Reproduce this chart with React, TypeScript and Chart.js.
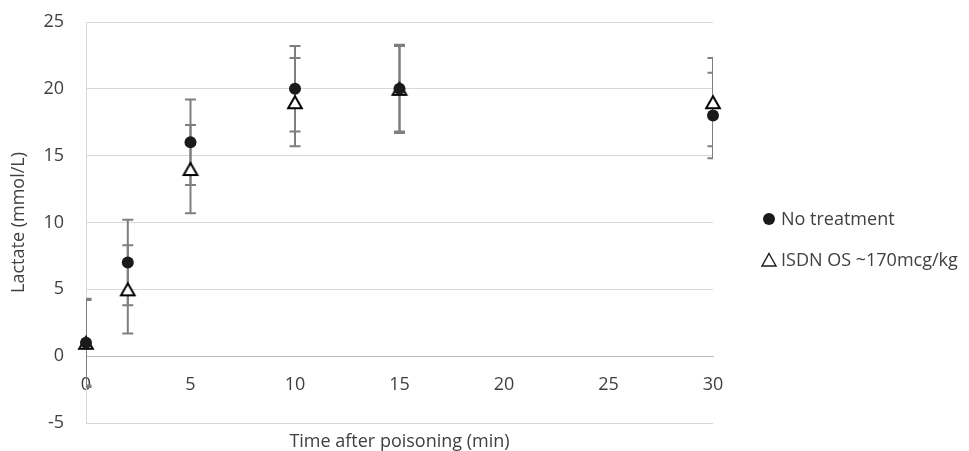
import React, { useEffect, useRef } from 'react';
import { Chart, registerables } from 'chart.js';

Chart.register(...registerables);

// ---- data ----
const times = [0, 2, 5, 10, 15, 30];
const noTreatment = [1, 7, 16, 20, 20, 18];
const noTreatmentErr = [3.2, 3.2, 3.2, 3.2, 3.2, 3.2];
const isdn = [1, 5, 14, 19, 20, 19];
const isdnErr = [3.3, 3.3, 3.3, 3.3, 3.3, 3.3];
const seriesLabels = ['No treatment', 'ISDN OS ~170mcg/kg'];
const xTitle = 'Time after poisoning (min)';
const yTitle = 'Lactate (mmol/L)';
const xMin = 0;
const xMax = 30;
const xStep = 5;
const yMin = -5;
const yMax = 25;
const yStep = 5;

const FONT = "'Open Sans', sans-serif";
const TEXT = '#404040';
const GRID = '#d9d9d9';
const AXIS = '#bfbfbf';
const ERR = '#7f7f7f';

function makeTriangle(w: number, h: number, lw: number) {
  const c = document.createElement('canvas');
  const size = 20;
  c.width = size;
  c.height = size;
  const ctx = c.getContext('2d')!;
  const cx = size / 2;
  const cy = size / 2;
  ctx.beginPath();
  ctx.moveTo(cx, cy - h / 2);
  ctx.lineTo(cx + w / 2, cy + h / 2);
  ctx.lineTo(cx - w / 2, cy + h / 2);
  ctx.closePath();
  ctx.fillStyle = '#ffffff';
  ctx.fill();
  ctx.lineWidth = lw;
  ctx.strokeStyle = '#000000';
  ctx.stroke();
  return c;
}

const errorBarPlugin = {
  id: 'errorBars',
  beforeDatasetsDraw(chart: any) {
    const { ctx, chartArea, scales } = chart;
    const xs = scales.x;
    const ys = scales.y;
    ctx.save();
    ctx.beginPath();
    ctx.rect(chartArea.left, chartArea.top, chartArea.right - chartArea.left, chartArea.bottom - chartArea.top);
    ctx.clip();
    ctx.strokeStyle = ERR;
    ctx.lineWidth = 2;
    chart.data.datasets.forEach((ds: any) => {
      const errs: number[] = ds.errors || [];
      ds.data.forEach((p: any, j: number) => {
        const e = errs[j];
        if (e == null) return;
        const x = xs.getPixelForValue(p.x);
        const yt = ys.getPixelForValue(p.y + e);
        const yb = ys.getPixelForValue(p.y - e);
        const cap = 5.5;
        ctx.beginPath();
        ctx.moveTo(x, yt);
        ctx.lineTo(x, yb);
        ctx.moveTo(x - cap, yt);
        ctx.lineTo(x + cap, yt);
        ctx.moveTo(x - cap, yb);
        ctx.lineTo(x + cap, yb);
        ctx.stroke();
      });
    });
    ctx.restore();
  },
};

const legendPlugin = {
  id: 'sideLegend',
  afterDraw(chart: any) {
    const { ctx, chartArea } = chart;
    const x0 = chartArea.right + 56;
    const ys = [chartArea.top + 197, chartArea.top + 238];
    ctx.save();
    ctx.font = `18px ${FONT}`;
    ctx.textBaseline = 'middle';
    ctx.textAlign = 'left';
    chart.data.datasets.forEach((ds: any, i: number) => {
      const y = ys[i];
      if (i === 0) {
        ctx.beginPath();
        ctx.arc(x0, y, 6, 0, Math.PI * 2);
        ctx.fillStyle = '#1a1a1a';
        ctx.fill();
      } else {
        ctx.beginPath();
        ctx.moveTo(x0, y - 6.5);
        ctx.lineTo(x0 + 7, y + 6);
        ctx.lineTo(x0 - 7, y + 6);
        ctx.closePath();
        ctx.lineWidth = 1.4;
        ctx.strokeStyle = '#1a1a1a';
        ctx.stroke();
      }
      ctx.fillStyle = TEXT;
      ctx.fillText(ds.label, x0 + 12, y + 1);
    });
    ctx.restore();
  },
};

export default function App() {
  const ref = useRef<HTMLCanvasElement>(null);
  useEffect(() => {
    if (!ref.current) return;
    const tri = makeTriangle(13.7, 12, 2);
    const chart = new Chart(ref.current, {
      type: 'scatter',
      data: {
        datasets: [
          {
            label: seriesLabels[0],
            data: times.map((t, i) => ({ x: t, y: noTreatment[i] })),
            errors: noTreatmentErr,
            pointStyle: 'circle',
            pointRadius: 6,
            backgroundColor: '#1a1a1a',
            borderColor: '#1a1a1a',
            borderWidth: 0,
            showLine: false,
            clip: false,
          } as any,
          {
            label: seriesLabels[1],
            data: times.map((t, i) => ({ x: t, y: isdn[i] })),
            errors: isdnErr,
            pointStyle: tri,
            pointRadius: 8,
            backgroundColor: '#ffffff',
            borderColor: '#000000',
            showLine: false,
            clip: false,
          } as any,
        ],
      },
      options: {
        animation: false,
        responsive: false,
        events: [],
        layout: { padding: { top: 22, right: 256, left: 0, bottom: 0 } },
        plugins: {
          legend: { display: false },
          tooltip: { enabled: false },
        },
        scales: {
          x: {
            type: 'linear',
            min: xMin,
            max: xMax,
            position: { y: 0 } as any,
            ticks: {
              stepSize: xStep,
              padding: 18,
              color: TEXT,
              font: { family: FONT, size: 18 },
            },
            grid: { display: false, drawTicks: false },
            border: { display: true, color: AXIS, width: 1 },
          },
          xTitle: {
            type: 'linear',
            axis: 'x',
            position: 'bottom',
            ticks: { display: false },
            grid: { display: false, drawTicks: false },
            border: { display: false },
            title: {
              display: true,
              text: xTitle,
              color: TEXT,
              font: { family: FONT, size: 18, lineHeight: 1 },
              padding: { top: 10, bottom: 0 },
            },
          },
          y: {
            type: 'linear',
            min: yMin,
            max: yMax,
            position: 'left',
            afterFit: (scale: any) => {
              scale.width = 86;
            },
            ticks: {
              stepSize: yStep,
              padding: 0,
              color: TEXT,
              font: { family: FONT, size: 18 },
            },
            grid: {
              drawTicks: true,
              tickLength: 22,
              tickColor: 'rgba(0,0,0,0)',
              color: (c: any) => (c.tick && c.tick.value === 0 ? AXIS : GRID),
              lineWidth: 1,
            },
            border: { display: true, color: GRID, width: 1 },
            title: {
              display: true,
              text: yTitle,
              color: TEXT,
              font: { family: FONT, size: 18, lineHeight: 1.2 },
              padding: { top: 8, bottom: 4 },
            },
          },
        },
      } as any,
      plugins: [errorBarPlugin, legendPlugin],
    });
    return () => chart.destroy();
  }, []);
  return (
    <div style={{ position: 'absolute', left: 0, top: 0, width: 969, height: 451 }}>
      <canvas ref={ref} width={969} height={451} style={{ display: 'block' }} />
    </div>
  );
}
